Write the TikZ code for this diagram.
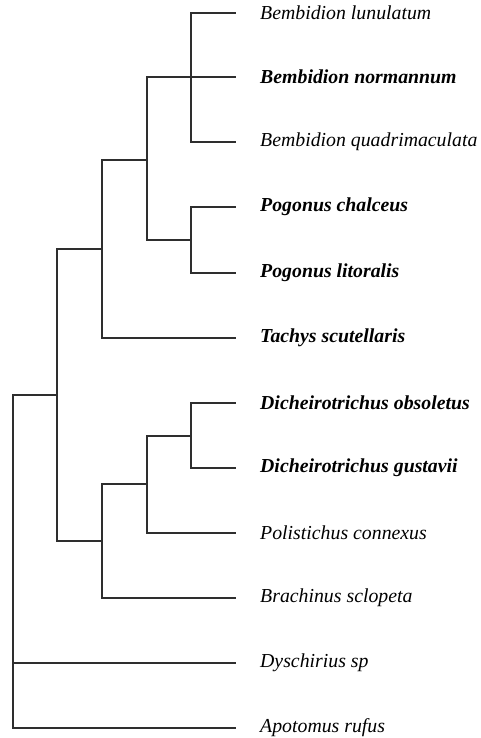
\documentclass[tikz,border=0pt]{standalone}
\usepackage{fontspec}
\setmainfont{Liberation Serif}
\begin{document}
\begin{tikzpicture}[x=1pt,y=-1pt,
  branch/.style={line width=1.7pt, draw=black!82, line join=miter},
  leaf/.style={anchor=west, inner xsep=24pt, inner ysep=0pt, font=\fontsize{19.8}{22}\selectfont\itshape},
  bleaf/.style={leaf, font=\fontsize{19.8}{22}\selectfont\bfseries\itshape}]
\useasboundingbox (0,0) rectangle (481,738);
% leaves
\node[leaf]  (l1)  at (236,13)  {Bembidion lunulatum};
\node[bleaf] (l2)  at (236,77)  {Bembidion normannum};
\node[leaf]  (l3)  at (236,142) {Bembidion quadrimaculata};
\node[bleaf] (l4)  at (236,207) {Pogonus chalceus};
\node[bleaf] (l5)  at (236,273) {Pogonus litoralis};
\node[bleaf] (l6)  at (236,338) {Tachys scutellaris};
\node[bleaf] (l7)  at (236,403) {Dicheirotrichus obsoletus};
\node[bleaf] (l8)  at (236,468) {Dicheirotrichus gustavii};
\node[leaf]  (l9)  at (236,533) {Polistichus connexus};
\node[leaf]  (l10) at (236,598) {Brachinus sclopeta};
\node[leaf]  (l11) at (236,663) {Dyschirius sp};
\node[leaf]  (l12) at (236,728) {Apotomus rufus};
% internal nodes
\coordinate (nB)   at (191,77);
\coordinate (nP)   at (191,240);
\coordinate (nBP)  at (147,160);
\coordinate (nT)   at (102,249);
\coordinate (nD)   at (191,436);
\coordinate (nDP)  at (147,484);
\coordinate (nDB)  at (102,541);
\coordinate (nA)   at (57,395);
\coordinate (root) at (13,560);
% branches
\draw[branch] (nB) |- (l1.west);
\draw[branch] (nB) |- (l2.west);
\draw[branch] (nB) |- (l3.west);
\draw[branch] (nP) |- (l4.west);
\draw[branch] (nP) |- (l5.west);
\draw[branch] (nBP) |- (nB);
\draw[branch] (nBP) |- (nP);
\draw[branch] (nT) |- (nBP);
\draw[branch] (nT) |- (l6.west);
\draw[branch] (nD) |- (l7.west);
\draw[branch] (nD) |- (l8.west);
\draw[branch] (nDP) |- (nD);
\draw[branch] (nDP) |- (l9.west);
\draw[branch] (nDB) |- (nDP);
\draw[branch] (nDB) |- (l10.west);
\draw[branch] (nA) |- (nT);
\draw[branch] (nA) |- (nDB);
\draw[branch] (root) |- (nA);
\draw[branch] (root) |- (l11.west);
\draw[branch] (root) |- (l12.west);
\end{tikzpicture}
\end{document}
